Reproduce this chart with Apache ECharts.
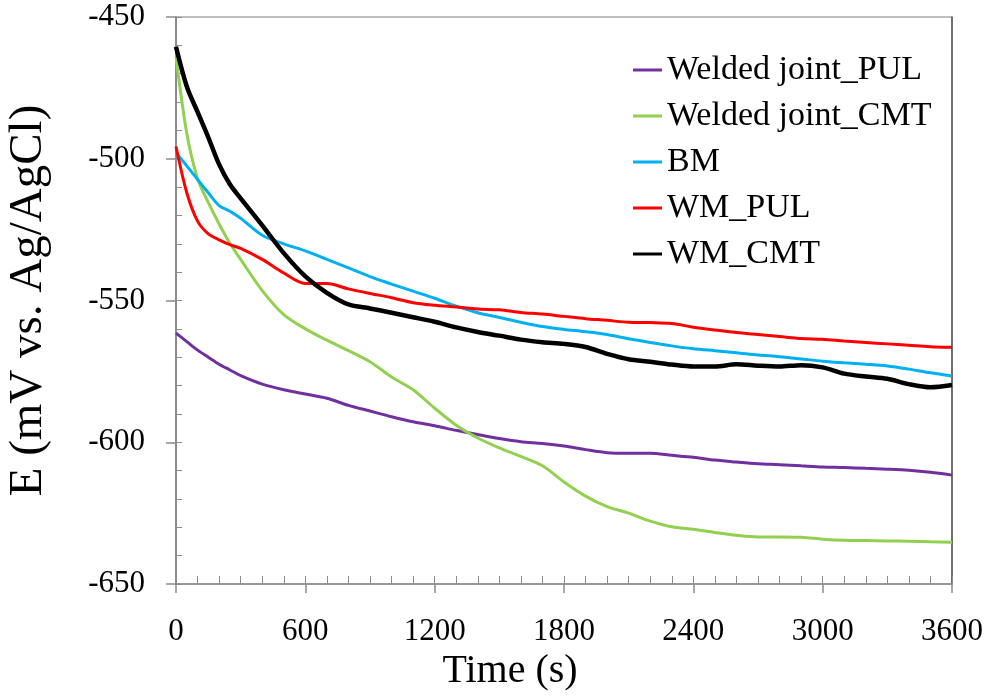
<!DOCTYPE html>
<html>
<head>
<meta charset="utf-8">
<script src="https://cdn.jsdelivr.net/npm/echarts@6/dist/echarts.min.js"></script>
<style>
  html, body { margin: 0; padding: 0; background: #fff; }
  #chart { width: 994px; height: 696px; }
</style>
</head>
<body>
<div id="chart"></div>
<script>
// time (s), shared by all curves
const times = [0, 50, 100, 150, 200, 250, 300, 400, 500, 600, 700, 800, 900, 1000,
  1100, 1200, 1300, 1400, 1500, 1600, 1700, 1800, 1900, 2000, 2100, 2200, 2300,
  2400, 2500, 2600, 2700, 2800, 2900, 3000, 3100, 3200, 3300, 3400, 3500, 3600];

// E (mV vs. Ag/AgCl)
const weldedPUL = [-561.5, -564.5, -567.5, -570, -572.5, -574.5, -576.5, -579.5, -581.5, -583,
  -584.5, -587, -589, -591, -592.8, -594.2, -595.8, -597.3, -598.7, -599.8, -600.4, -601.3,
  -602.6, -603.7, -603.9, -603.9, -604.6, -605.3, -606.3, -607, -607.6, -607.9, -608.3,
  -608.7, -608.9, -609.2, -609.5, -609.9, -610.6, -611.6];
const weldedCMT = [-464, -491, -507, -515.5, -523, -529.8, -535.5, -546.5, -555, -560,
  -564, -567.7, -571.6, -577, -581.5, -588, -594, -598.5, -602, -605, -608.3, -614,
  -619, -622.7, -625, -627.8, -629.8, -630.7, -631.8, -632.8, -633.4, -633.4, -633.5,
  -634.2, -634.6, -634.7, -634.8, -634.9, -635.1, -635.3];
const bm = [-498, -502.5, -507.3, -512, -516.5, -518.5, -521, -527, -530, -532.5,
  -535.5, -538.5, -541.6, -544.2, -546.7, -549.2, -552, -554.3, -556, -557.7, -559.2,
  -560.2, -561, -562, -563.5, -564.8, -566, -567, -567.7, -568.4, -569.2, -569.8,
  -570.6, -571.4, -572, -572.5, -573.1, -574.2, -575.5, -576.6];
const wmPUL = [-495.7, -512, -522, -526.5, -528.6, -530.3, -531.6, -535.5, -540.3, -544,
  -544, -545.9, -547.5, -549, -550.8, -551.7, -552.3, -553, -553.3, -554.2, -554.8,
  -555.6, -556.4, -557, -557.7, -557.8, -558.1, -559.4, -560.4, -561.3, -562, -562.7,
  -563.4, -563.7, -564.3, -564.8, -565.3, -565.8, -566.3, -566.5];
const wmCMT = [-460.5, -474.5, -483.5, -492.5, -502, -509, -514, -523.5, -533.3, -541.5,
  -547.3, -551.4, -552.8, -554.3, -555.9, -557.5, -559.5, -561.1, -562.4, -563.8, -564.7,
  -565.3, -566.4, -568.8, -570.7, -571.6, -572.6, -573.3, -573.3, -572.5, -573, -573.3,
  -572.8, -573.6, -575.8, -576.8, -577.6, -579.5, -580.6, -579.8];

const seriesNames = ['Welded joint_PUL', 'Welded joint_CMT', 'BM', 'WM_PUL', 'WM_CMT'];
const seriesValues = [weldedPUL, weldedCMT, bm, wmPUL, wmCMT];
const seriesColors = ['#7030a0', '#92d050', '#00b0f0', '#ff0000', '#000000'];
const seriesWidths = [3, 3, 3, 3, 4.5];

const font = '"Liberation Serif", "Times New Roman", serif';
const axisGray = '#8c8c8c';
const plain = (v) => String(v);

const chart = echarts.init(document.getElementById('chart'));

chart.setOption({
  animation: false,
  backgroundColor: '#fff',
  textStyle: { fontFamily: font, color: '#000' },
  grid: {
    left: 176, right: 42, top: 17, bottom: 112,
    outerBoundsMode: 'none',
    containLabel: false,
    show: true, borderColor: '#7f7f7f', borderWidth: 1
  },
  legend: {
    orient: 'vertical',
    left: 628, top: 48,
    icon: 'rect',
    itemWidth: 29, itemHeight: 3, itemGap: 12,
    textStyle: { fontFamily: font, fontSize: 34, lineHeight: 34, color: '#000' },
    data: seriesNames
  },
  xAxis: [
    {
      type: 'value', position: 'bottom', min: 0, max: 3600, interval: 600,
      name: 'Time (s)', nameLocation: 'middle', nameGap: 59,
      nameTextStyle: { fontFamily: font, fontSize: 40, color: '#000', padding: [0, 108, 0, 0] },
      axisLine: { lineStyle: { color: axisGray, width: 1.5 } },
      axisTick: { inside: false, length: 9, lineStyle: { color: axisGray, width: 1.5 } },
      axisLabel: { fontFamily: font, fontSize: 31, color: '#000', margin: 32, formatter: plain },
      splitLine: { show: false }
    },
    {
      // minor ticks pointing into the plot
      type: 'value', position: 'bottom', min: 0, max: 3600, interval: 100,
      axisLine: { show: false },
      axisTick: { inside: true, length: 8, lineStyle: { color: axisGray, width: 1 } },
      axisLabel: { show: false },
      splitLine: { show: false }
    }
  ],
  yAxis: [
    {
      type: 'value', position: 'left', min: -650, max: -450, interval: 50,
      name: 'E (mV vs. Ag/AgCl)', nameLocation: 'middle', nameGap: 124,
      nameTextStyle: { fontFamily: font, fontSize: 47, color: '#000' },
      axisLine: { lineStyle: { color: axisGray, width: 2 } },
      axisTick: { inside: false, length: 10, lineStyle: { color: axisGray, width: 1.5 } },
      axisLabel: { fontFamily: font, fontSize: 31, color: '#000', margin: 31, formatter: plain },
      splitLine: { show: false }
    },
    {
      type: 'value', position: 'left', min: -650, max: -450, interval: 10,
      axisLine: { show: false },
      axisTick: { inside: true, length: 6, lineStyle: { color: axisGray, width: 1 } },
      axisLabel: { show: false },
      splitLine: { show: false }
    },
    {
      // darker right frame line
      type: 'value', position: 'right', min: -650, max: -450,
      axisLine: { show: true, lineStyle: { color: '#555', width: 1.5 } },
      axisTick: { show: false },
      axisLabel: { show: false },
      splitLine: { show: false }
    }
  ],
  series: seriesNames.map((name, i) => ({
    name,
    type: 'line',
    xAxisIndex: 0,
    yAxisIndex: 0,
    showSymbol: false,
    symbol: 'none',
    smooth: 0.3,
    color: seriesColors[i],
    lineStyle: { color: seriesColors[i], width: seriesWidths[i] },
    data: times.map((t, k) => [t, seriesValues[i][k]])
  }))
});
</script>
</body>
</html>
